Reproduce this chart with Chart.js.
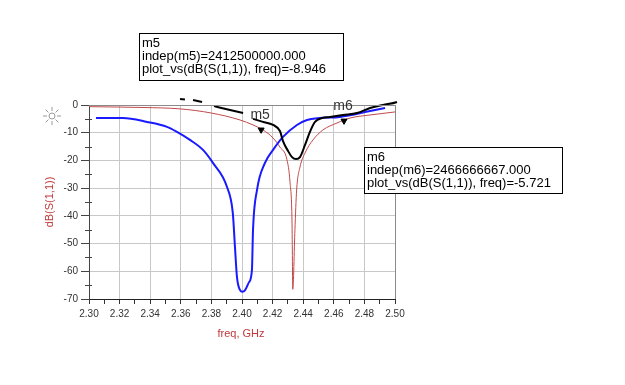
<!DOCTYPE html>
<html>
<head>
<meta charset="utf-8">
<script src="https://cdn.jsdelivr.net/npm/chart.js@4.4.0/dist/chart.umd.min.js"></script>
<style>
    html, body { margin: 0; padding: 0; background: #ffffff; }
    #wrap { width: 625px; height: 385px; }
</style>
</head>
<body>
<div id="wrap"><canvas id="s11Chart" width="625" height="385"></canvas></div>
<script>
// ==============================
// DATA
// ==============================
const xTicksMin = 2.30;
const xTicksMax = 2.50;
const yTicksMin = -70;
const yTicksMax = 0;

// blue trace
const blueFreq = [2.3046, 2.3222, 2.3379, 2.3510, 2.3575, 2.3660, 2.3745, 2.3810, 2.3902, 2.3940,
    2.3954, 2.3967, 2.3987, 2.4004, 2.4020, 2.4045, 2.4065, 2.4072, 2.4098, 2.4150,
    2.4203, 2.4268, 2.4359, 2.4425, 2.4510, 2.4640, 2.4837, 2.4935];
const blueDb = [-4.7, -4.7, -6.1, -7.9, -9.7, -12.6, -16.2, -20.9, -29.6, -39,
    -51.2, -62, -66.8, -67.4, -66.8, -64, -59.5, -45, -30.7, -20.9,
    -16.2, -11.5, -7.2, -5.4, -4.7, -4.3, -2.2, -1.1];

// red trace
const redFreq = [2.3000, 2.3353, 2.3595, 2.3800, 2.3987, 2.4072, 2.4137, 2.4203, 2.4248, 2.4294,
    2.4314, 2.4327, 2.4332, 2.4346, 2.4357, 2.4379, 2.4412, 2.4464, 2.4529, 2.4621,
    2.4706, 2.4837, 2.5000];
const redDb = [-0.6, -0.9, -1.4, -2.9, -5.4, -7.2, -9.0, -11.9, -15.2, -19.8,
    -28, -42.6, -66.5, -45, -30.7, -22.4, -17.3, -12.6, -9.0, -6.5,
    -4.7, -3.6, -2.5];

// black trace (null = gap)
const blackFreq = [2.3595, 2.3627, 2.3650, 2.3680, 2.3739, 2.3780, 2.3817, 2.3922, 2.4007, 2.4040,
    2.4072, 2.4137, 2.4203, 2.4248, 2.4268, 2.4301, 2.4327, 2.4353, 2.4379, 2.4412,
    2.4444, 2.4477, 2.4523, 2.4575, 2.4660, 2.4752, 2.4837, 2.4922, 2.5013, 2.5085];
const blackDb = [2.2, 2.0, null, 1.8, 1.1, null, -0.4, -1.8, -2.9, null,
    -5.0, -6.1, -7.2, -9.4, -13.0, -16.6, -18.8, -19.5, -18.8, -14.4,
    -9.7, -6.1, -4.7, -4.3, -3.6, -2.9, -1.1, 0.0, 1.1, 3.2];

// markers
const markerNames = ['m5', 'm6'];
const markerFreq = [2.4125, 2.466666667];
const markerDb = [-8.946, -5.721];
const markerIndep = ['2412500000.000', '2466666667.000'];

// ==============================
// HELPERS
// ==============================
function toPoints(xs, ys) {
    return xs.map((x, i) => ({ x: x, y: ys[i] }));
}

const FONT = "'Liberation Sans', Arial, sans-serif";
const RED_TXT = '#c0393b';

// frame, minor ticks, titles, sun icon, marker boxes
const decorPlugin = {
    id: 'decor',
    afterDraw(chart) {
        const ctx = chart.ctx;
        const area = chart.chartArea;
        const xs = chart.scales.x;
        const ys = chart.scales.y;
        ctx.save();

        // top and right frame
        ctx.strokeStyle = '#8a8a8a';
        ctx.lineWidth = 1;
        ctx.beginPath();
        ctx.moveTo(area.left, area.top + 0.5);
        ctx.lineTo(area.right + 0.5, area.top + 0.5);
        ctx.lineTo(area.right + 0.5, area.bottom);
        ctx.stroke();

        // minor y ticks
        ctx.strokeStyle = '#444';
        for (let v = -65; v < 0; v += 10) {
            const y = Math.round(ys.getPixelForValue(v)) + 0.5;
            ctx.beginPath();
            ctx.moveTo(area.left - 4, y);
            ctx.lineTo(area.left + 3, y);
            ctx.stroke();
        }

        // axis titles
        ctx.fillStyle = RED_TXT;
        ctx.font = '11px ' + FONT;
        ctx.textAlign = 'center';
        ctx.textBaseline = 'middle';
        ctx.fillText('freq, GHz', (area.left + area.right) / 2 - 1, area.bottom + 35);
        ctx.save();
        ctx.translate(area.left - 39, (area.top + area.bottom) / 2);
        ctx.rotate(-Math.PI / 2);
        ctx.fillText('dB(S(1,1))', 0, 0);
        ctx.restore();

        // sun icon
        const sx = area.left - 37, sy = area.top + 11;
        ctx.strokeStyle = '#9a9a9a';
        ctx.lineWidth = 1;
        ctx.beginPath();
        ctx.arc(sx, sy, 3, 0, Math.PI * 2);
        ctx.stroke();
        for (let k = 0; k < 8; k++) {
            const a = k * Math.PI / 4;
            ctx.beginPath();
            ctx.moveTo(sx + Math.cos(a) * 5, sy + Math.sin(a) * 5);
            ctx.lineTo(sx + Math.cos(a) * 9, sy + Math.sin(a) * 9);
            ctx.stroke();
        }

        // marker labels
        ctx.fillStyle = '#333';
        ctx.font = '14px ' + FONT;
        ctx.textAlign = 'center';
        ctx.textBaseline = 'middle';
        markerNames.forEach((name, i) => {
            const px = xs.getPixelForValue(markerFreq[i]);
            const py = ys.getPixelForValue(markerDb[i]);
            ctx.fillText(name, px - 1, py - 15);
        });

        // marker readout boxes
        const boxes = [
            { left: 139, top: 33, w: 204, h: 47 },
            { left: 364, top: 147, w: 198, h: 46 }
        ];
        ctx.font = '13px ' + FONT;
        ctx.textAlign = 'left';
        ctx.textBaseline = 'alphabetic';
        markerNames.forEach((name, i) => {
            const b = boxes[i];
            ctx.fillStyle = '#ffffff';
            ctx.fillRect(b.left, b.top, b.w, b.h);
            ctx.strokeStyle = '#000';
            ctx.strokeRect(b.left + 0.5, b.top + 0.5, b.w, b.h);
            ctx.fillStyle = '#000';
            const lines = [
                name,
                'indep(' + name + ')=' + markerIndep[i],
                'plot_vs(dB(S(1,1)), freq)=' + markerDb[i].toFixed(3)
            ];
            lines.forEach((t, j) => ctx.fillText(t, b.left + 3, b.top + 14 + j * 13));
        });

        ctx.restore();
    }
};

// ==============================
// CHART
// ==============================
function createS11Chart() {
    const ctx = document.getElementById('s11Chart');

    new Chart(ctx, {
        type: 'line',
        data: {
            datasets: [
                {
                    label: 'markers',
                    type: 'scatter',
                    data: toPoints(markerFreq, markerDb),
                    pointStyle: 'triangle',
                    rotation: 180,
                    pointRadius: 3.5,
                    backgroundColor: '#000',
                    borderColor: '#000',
                    order: 0
                },
                {
                    label: 'black',
                    data: toPoints(blackFreq, blackDb),
                    borderColor: '#000000',
                    borderWidth: 2,
                    pointRadius: 0,
                    spanGaps: false,
                    cubicInterpolationMode: 'monotone',
                    clip: false,
                    order: 1
                },
                {
                    label: 'blue',
                    data: toPoints(blueFreq, blueDb),
                    borderColor: '#1a1aff',
                    borderWidth: 2,
                    pointRadius: 0,
                    cubicInterpolationMode: 'monotone',
                    order: 2
                },
                {
                    label: 'red',
                    data: toPoints(redFreq, redDb),
                    borderColor: '#c0494b',
                    borderWidth: 1,
                    pointRadius: 0,
                    cubicInterpolationMode: 'monotone',
                    order: 3
                }
            ]
        },
        options: {
            responsive: false,
            animation: false,
            layout: {
                padding: { left: 0, right: 230, top: 105, bottom: 36 }
            },
            plugins: {
                legend: { display: false },
                tooltip: { enabled: false }
            },
            scales: {
                x: {
                    type: 'linear',
                    min: xTicksMin,
                    max: xTicksMax,
                    afterFit: (scale) => { scale.height = 50; },
                    border: { display: true, color: '#222', width: 1 },
                    grid: {
                        color: (c) => (Math.round(c.tick.value * 100) % 2 === 0 ? '#c8c8c8' : 'rgba(0,0,0,0)'),
                        tickColor: '#333',
                        tickLength: 5
                    },
                    ticks: {
                        stepSize: 0.01,
                        autoSkip: false,
                        maxRotation: 0,
                        padding: 4,
                        color: '#333',
                        font: { family: FONT, size: 10 },
                        callback: (value) => {
                            const k = Math.round(value * 100);
                            return k % 2 === 0 ? (k / 100).toFixed(2) : '';
                        }
                    }
                },
                y: {
                    type: 'linear',
                    min: yTicksMin,
                    max: yTicksMax,
                    afterFit: (scale) => { scale.width = 89; },
                    border: { display: true, color: '#444', width: 1 },
                    grid: {
                        color: (c) => (c.tick.value % 10 === 0 ? '#c8c8c8' : 'rgba(0,0,0,0)'),
                        tickColor: (c) => (c.tick.value % 10 === 0 ? '#444' : 'rgba(0,0,0,0)'),
                        tickLength: 8
                    },
                    ticks: {
                        stepSize: 5,
                        autoSkip: false,
                        padding: 3,
                        color: '#333',
                        font: { family: FONT, size: 10 },
                        callback: (value) => (value % 10 === 0 ? String(value) : '')
                    }
                }
            }
        },
        plugins: [decorPlugin]
    });
}

document.addEventListener('DOMContentLoaded', createS11Chart);
</script>
</body>
</html>
